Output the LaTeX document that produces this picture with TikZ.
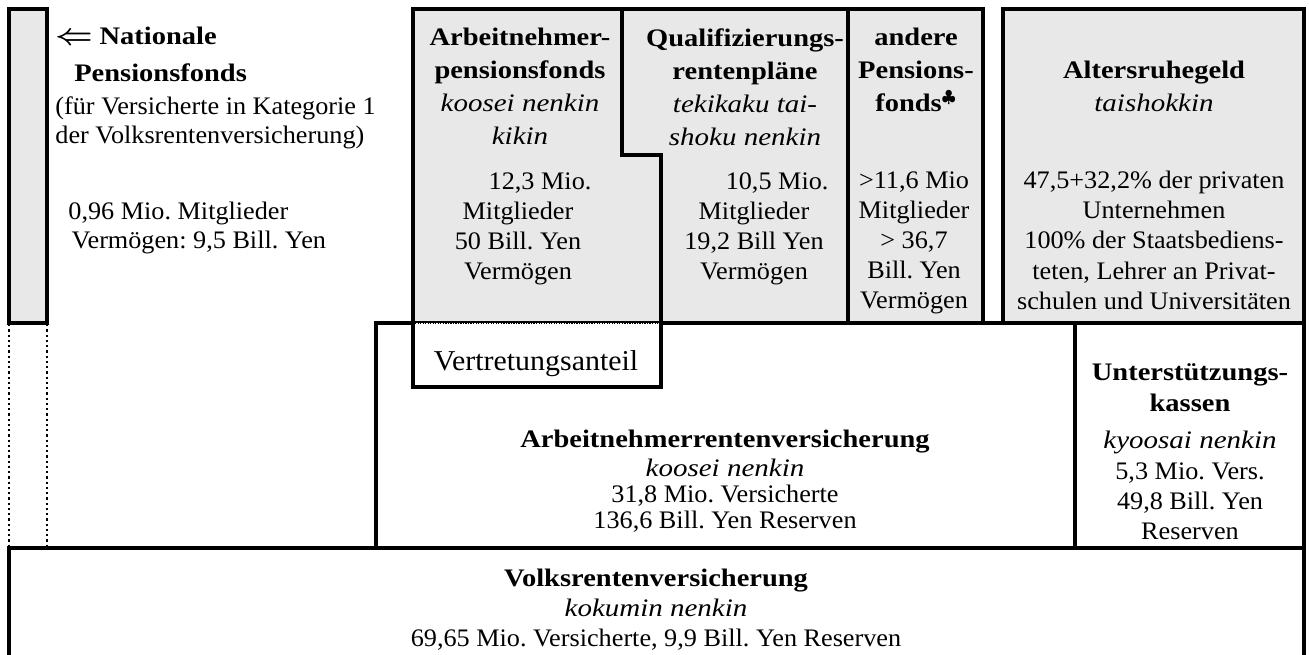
\documentclass[tikz,border=0pt]{standalone}
\usepackage{fontspec}
\setmainfont{Liberation Serif}[
    UprightFeatures={FakeStretch=1.04},
    BoldFeatures={FakeStretch=1.13},
    ItalicFeatures={FakeStretch=1.15}]
\usepackage{graphicx}
\usepackage{tikz}
\definecolor{box_gray}{gray}{0.91}
\frenchspacing

\begin{document}
\begin{tikzpicture}[
        x=0.476pt, y=-0.476pt,
        box_line/.style={
            draw,
            line width=1.7pt
        },
        gray_area/.style={
            fill=box_gray
        },
        dot_line/.style={
            line width=1.1pt,
            dash pattern=on 1.1pt off 1.4pt
        },
        fine_dot_line/.style={
            line width=0.6pt,
            dash pattern=on 0.6pt off 0.6pt
        },
        head_text/.style={
            align=center,
            inner sep=0pt,
            anchor=north,
            font=\fontsize{12pt}{15.7pt}\selectfont
        },
        data_text/.style={
            align=center,
            inner sep=0pt,
            anchor=north,
            font=\fontsize{12pt}{14.3pt}\selectfont
        },
        tight_text/.style={
            align=center,
            inner sep=0pt,
            anchor=north,
            font=\fontsize{12pt}{12.4pt}\selectfont
        },
        left_text/.style={
            align=left,
            inner sep=0pt,
            anchor=north west,
            font=\fontsize{12pt}{13.8pt}\selectfont
        }
    ]
        \useasboundingbox (0,0) rectangle (1309,655);

        \coordinate (bar_nw) at (9,9);
        \coordinate (bar_se) at (47,323);
        \coordinate (arb_nw) at (413,9);
        \coordinate (step_top) at (622,9);
        \coordinate (step_in) at (622,155);
        \coordinate (step_out) at (661,155);
        \coordinate (vert_se) at (661,387);
        \coordinate (vert_sw) at (413,387);
        \coordinate (qual_ne) at (848,9);
        \coordinate (and_ne) at (983,9);
        \coordinate (alt_nw) at (1003,9);
        \coordinate (alt_se) at (1304,323);
        \coordinate (rente_nw) at (376,323);
        \coordinate (rente_se) at (1075,548);
        \coordinate (unter_se) at (1304,548);
        \coordinate (volks_nw) at (9,548);

        \fill[gray_area] (arb_nw) rectangle (983,323);
        \fill[gray_area] (alt_nw) rectangle (alt_se);
        \fill[gray_area] (bar_nw) rectangle (bar_se);

        \draw[box_line] (rente_nw) rectangle (rente_se);
        \draw[box_line] (1075,323) rectangle (unter_se);
        \draw[box_line] (9,658) -- (volks_nw) -- (unter_se) -- (1304,658);

        \fill[white] (413,323) rectangle (vert_se);
        \draw[box_line] (vert_sw) -- (arb_nw) -- (step_top) -- (step_in)
            -- (step_out) -- (vert_se) -- cycle;
        \draw[box_line] (step_top) -- (qual_ne) -- (848,323);
        \draw[box_line] (qual_ne) -- (and_ne) -- (983,323);
        \draw[box_line] (661,323) -- (alt_se);
        \draw[box_line] (alt_nw) rectangle (alt_se);
        \draw[box_line] (bar_nw) rectangle (bar_se);

        \draw[dot_line] (9,324) -- (9,547);
        \draw[dot_line] (47,324) -- (47,547);
        \draw[fine_dot_line] (415,323) -- (659,323);

        \node[left_text] (natl_head) at (55,27) {\scalebox{1.3}[1.15]{\boldmath$\Leftarrow$} \textbf{Nationale}\\[3.8pt]
            \hspace*{9pt}\textbf{Pensionsfonds}\\[1.9pt]
            (für Versicherte in Kategorie 1\\
            der Volksrentenversicherung)};
        \node[left_text] (natl_data) at (68,202) {0,96 Mio. Mitglieder\\
            \hspace*{1.5pt}Vermögen: 9,5 Bill. Yen};

        \node[head_text] (arb_head) at (520,28) {\textbf{Arbeitnehmer-}\\\textbf{pensionsfonds}\\
            \textit{koosei nenkin}\\\textit{kikin}};
        \node[data_text] (arb_data) at (518,172) {\hspace*{21pt}12,3 Mio.\\Mitglieder\\
            50 Bill. Yen\\Vermögen};
        \node[data_text, font=\fontsize{13.7pt}{16pt}\selectfont] (vertr) at (536,350) {Vertretungsanteil};

        \node[head_text] (qual_head) at (745,28) {\textbf{Qualifizierungs-}\\\textbf{rentenpläne}\\
            \textit{tekikaku tai-}\\\textit{shoku nenkin}};
        \node[data_text] (qual_data) at (754,172) {\hspace*{22pt}10,5 Mio.\\Mitglieder\\
            19,2 Bill Yen\\Vermögen};

        \node[head_text] (and_head) at (916,28) {\textbf{andere}\\\textbf{Pensions-}\\
            \textbf{fonds}$^{\clubsuit}$};
        \node[data_text] (and_data) at (914,171) {>11,6 Mio\\Mitglieder\\> 36,7\\
            Bill. Yen\\Vermögen};

        \node[head_text] (alt_head) at (1154,61) {\textbf{Altersruhegeld}\\\textit{taishokkin}};
        \node[data_text] (alt_data) at (1154,171) {47,5+32,2\% der privaten\\Unternehmen\\
            100\% der Staatsbediens-\\teten, Lehrer an Privat-\\schulen und Universitäten};

        \node[tight_text] (rente) at (725,430) {\textbf{Arbeitnehmerrentenversicherung}\\[1pt]
            \textit{koosei nenkin}\\31,8 Mio. Versicherte\\136,6 Bill. Yen Reserven};
        \node[data_text] (unter) at (1190,363) {\textbf{Unterstützungs-}\\[0.5pt]\textbf{kassen}\\[3.6pt]
            \textit{kyoosai nenkin}\\5,3 Mio. Vers.\\49,8 Bill. Yen\\Reserven};
        \node[data_text] (volks) at (656,569) {\textbf{Volksrentenversicherung}\\
            \textit{kokumin nenkin}\\69,65 Mio. Versicherte, 9,9 Bill. Yen Reserven};
    \end{tikzpicture}
\end{document}
